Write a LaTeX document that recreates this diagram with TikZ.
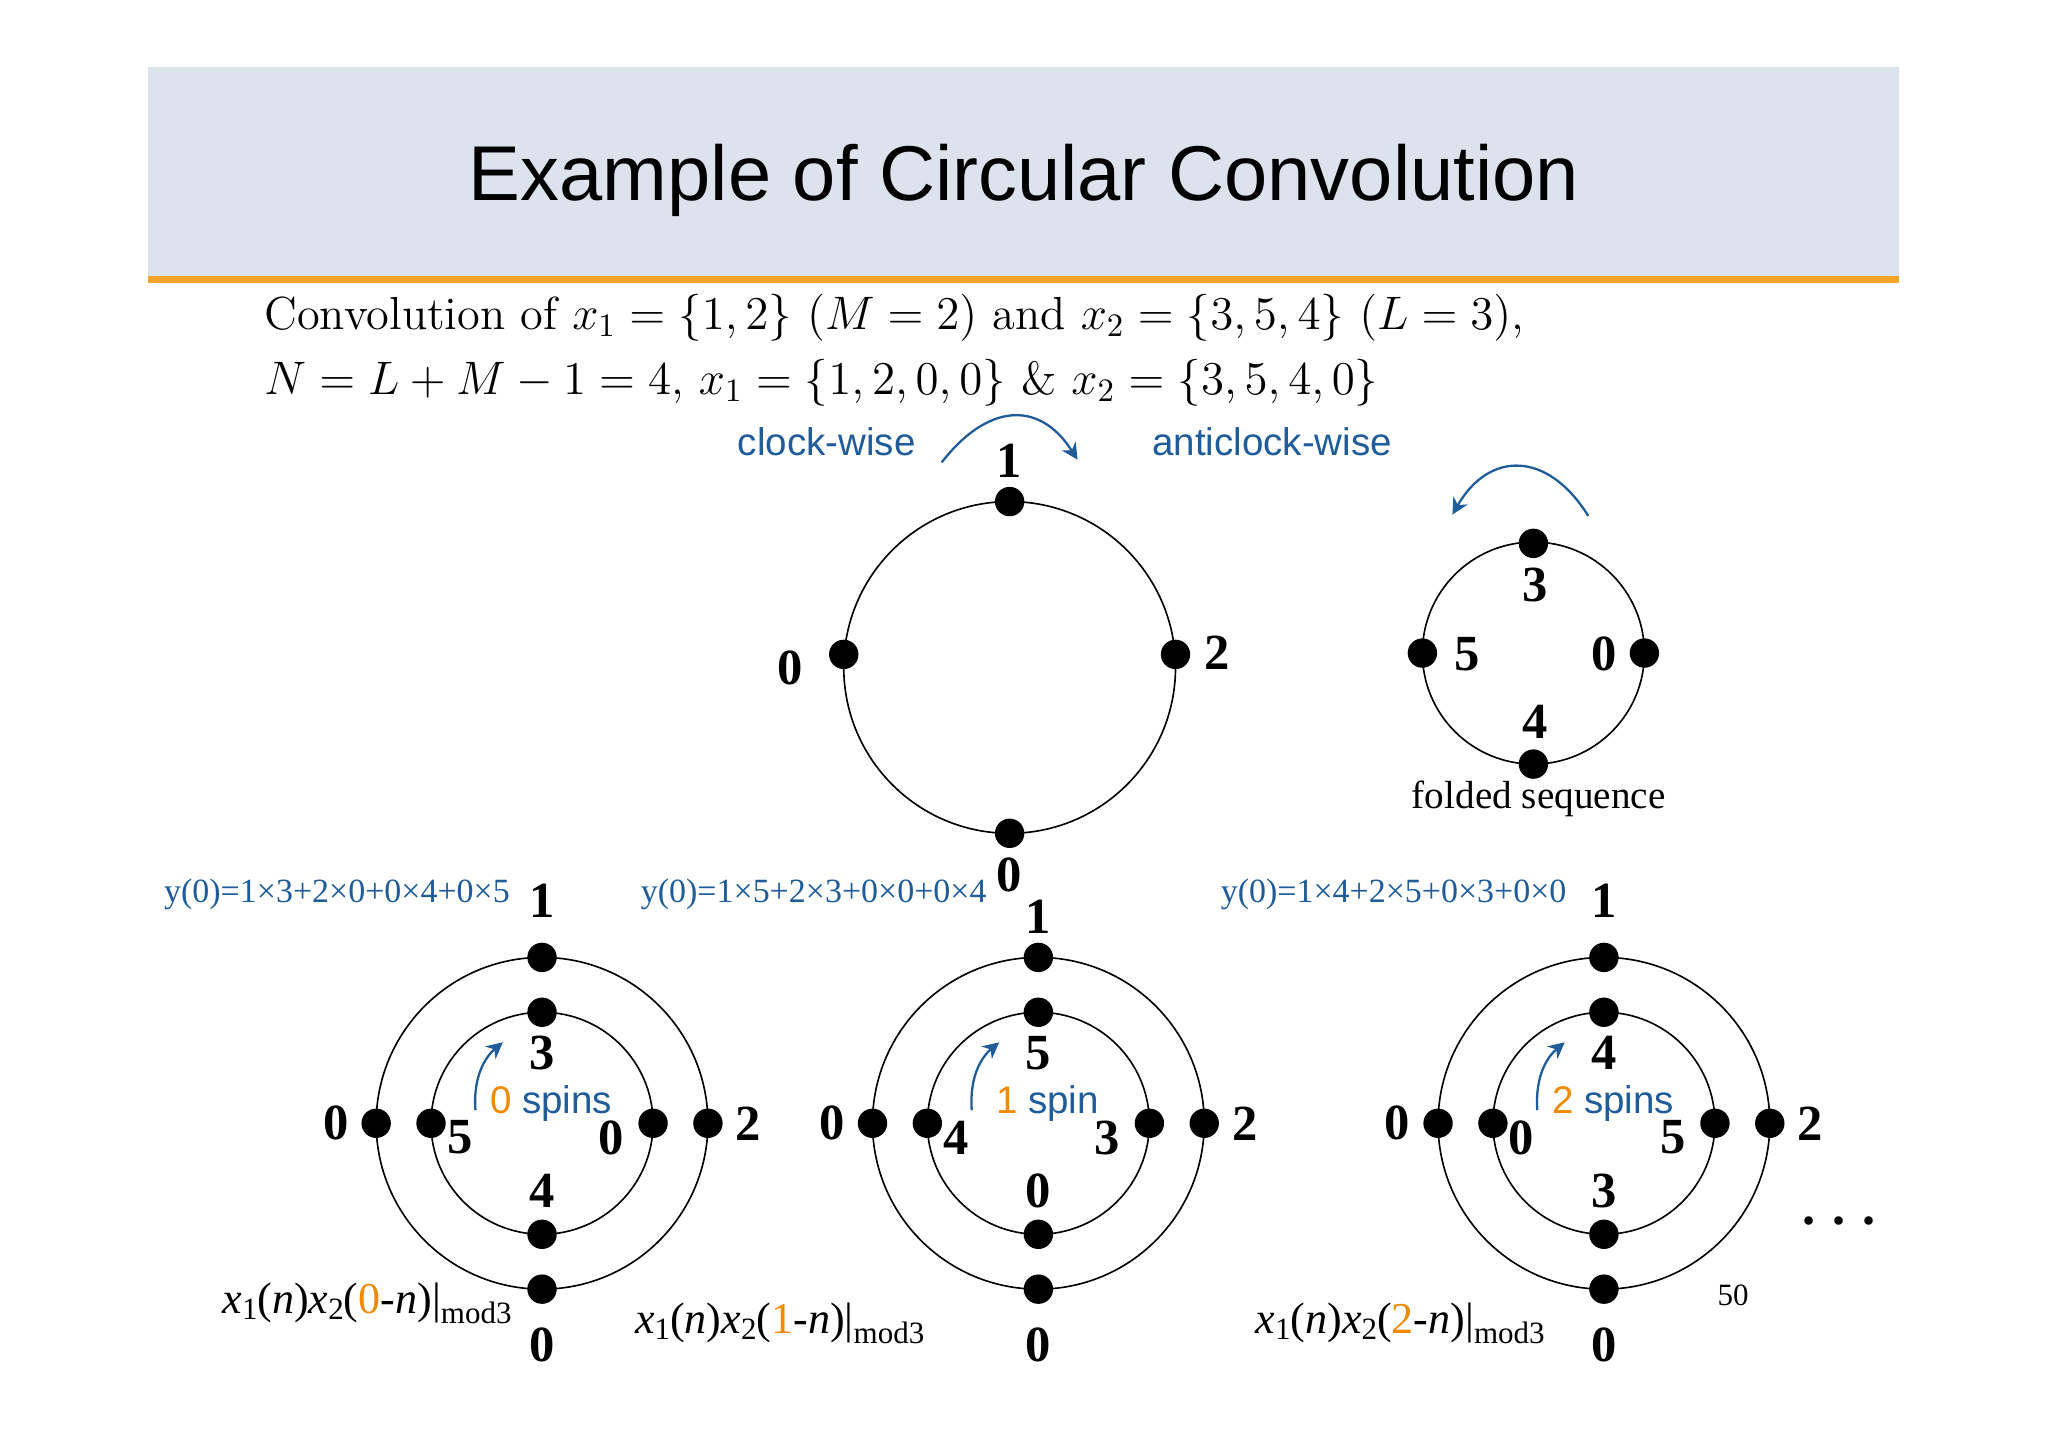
\documentclass[tikz,border=0pt]{standalone}
\usepackage{fontspec}
\newfontfamily\sansf{Liberation Sans}
\newfontfamily\tnr{Liberation Serif}
\usetikzlibrary{arrows.meta}
\definecolor{hdr}{HTML}{DCE3EC}
\definecolor{obar}{HTML}{F5A52A}
\definecolor{cblue}{HTML}{1F5C99}
\definecolor{corange}{HTML}{F08A00}
\tikzset{
 dot/.style={circle,fill=black,inner sep=0pt,minimum width=8pt,minimum height=9pt},
 num/.style={font=\tnr\bfseries\fontsize{15.5}{15.5}\selectfont,inner sep=0pt},
 ring/.style={draw=black,line width=0.5pt},
 barrow/.style={draw=cblue,line width=0.7pt,-{Stealth[length=5pt,width=5pt]}},
 blab/.style={text=cblue,font=\sansf\fontsize{11.8}{12}\selectfont,inner sep=0pt},
 ylab/.style={text=cblue,font=\tnr\fontsize{10.4}{11}\selectfont,inner sep=0pt},
 flab/.style={font=\tnr\fontsize{13.5}{14}\selectfont,inner sep=0pt},
}
\newcommand{\fml}[1]{\textit{x}\raisebox{-0.3ex}{\fontsize{9.5}{9.5}\selectfont 1}(\textit{n})\textit{x}\raisebox{-0.3ex}{\fontsize{9.5}{9.5}\selectfont 2}(\textcolor{corange}{#1}-\textit{n})|\raisebox{-0.5ex}{\fontsize{9.5}{9.5}\selectfont mod3}}
\begin{document}
\begin{tikzpicture}[x=0.4pt,y=-0.4pt]
\useasboundingbox[fill=white] (0,0) rectangle (1568,1107);
\fill[hdr] (113,51) rectangle (1454,212);
\fill[obar] (113,211) rectangle (1454,217);
\node[font=\sansf\fontsize{23.8}{24}\selectfont] (title) at (784,138) {Example of Circular Convolution};
\node[anchor=west,inner sep=0pt,font=\fontsize{14.2}{15}\selectfont] (l1) at (202,243) {Convolution of $x_1=\{1,2\}$ $(M=2)$ and $x_2=\{3,5,4\}$ $(L=3)$,};
\node[anchor=west,inner sep=0pt,font=\fontsize{14.2}{15}\selectfont] (l2) at (202,293) {$N=L+M-1=4$, $x_1=\{1,2,0,0\}$ \& $x_2=\{3,5,4,0\}$};
\node[blab] (cw) at (633,338) {clock-wise};
\node[blab] (acw) at (974,338) {anticlock-wise};
\coordinate (cwa) at (721,354); \coordinate (cwb) at (825,352);
\draw[barrow] (cwa) .. controls (755,310) and (795,305) .. (cwb);
% top circle
\draw[ring] (773,511) circle[radius=127];
\node[dot] (t1) at (773,384) {}; \node[dot] (t2) at (900,501) {};
\node[dot] (t0a) at (646,501) {}; \node[dot] (t0b) at (773,638) {};
\node[num] at (773,353) {1}; \node[num] at (605,511) {0};
\node[num] at (932,500) {2}; \node[num] at (773,670) {0};
% folded
\draw[ring] (1174,500) circle[radius=85];
\node[dot] (f3) at (1174,416) {}; \node[dot] (f5) at (1089,500) {};
\node[dot] (f0) at (1259,500) {}; \node[dot] (f4) at (1174,585) {};
\node[num] at (1175,448) {3}; \node[num] at (1123,501) {5};
\node[num] at (1228,501) {0}; \node[num] at (1175,553) {4};
\node[font=\tnr\fontsize{12}{12}\selectfont] (fs) at (1178,612) {folded sequence};
\coordinate (faa) at (1216,395); \coordinate (fab) at (1112,394);
\draw[barrow] (faa) .. controls (1185,345) and (1140,345) .. (fab);
% bottom circles
\foreach \cx/\lt/\ll/\lr/\lb/\sp/\spt/\yl/\ylx/\fx/\fy/\oy in
 {415/3/5/0/4/0/spins/{y(0)=1×3+2×0+0×4+0×5}/258/281/998/690,
  795/5/4/3/0/1/spin/{y(0)=1×5+2×3+0×0+0×4}/623/597/1013/702,
  1228/4/0/5/3/2/spins/{y(0)=1×4+2×5+0×3+0×0}/1067/1072/1013/690}{
 \draw[ring] (\cx,860) circle[radius=127];
 \draw[ring] (\cx,860) circle[radius=85];
 \node[dot] at (\cx,733) {}; \node[dot] at (\cx,987) {};
 \node[dot] at (\cx-127,860) {}; \node[dot] at (\cx+127,860) {};
 \node[dot] at (\cx,775) {}; \node[dot] at (\cx,945) {};
 \node[dot] at (\cx-85,860) {}; \node[dot] at (\cx+85,860) {};
 \node[num] at (\cx,\oy) {1}; \node[num] at (\cx-158,860) {0};
 \node[num] at (\cx+158,860) {2}; \node[num] at (\cx,1030) {0};
 \node[num] at (\cx,806) {\lt}; \node[num] at (\cx-63,871) {\ll};
 \node[num] at (\cx+53,871) {\lr}; \node[num] at (\cx,912) {\lb};
 \node[blab] at (\cx+7,845) {\textcolor{corange}{\sp} \spt};
 \draw[barrow] (\cx-51,850) .. controls (\cx-53,822) and (\cx-42,808) .. (\cx-30,798);
 \node[ylab] at (\ylx,685) {\yl};
 \node[flab] at (\fx,\fy) {\fml{\sp}};
}
\node[font=\tnr\fontsize{9.5}{10}\selectfont] (p50) at (1327,992) {50};
\node[font=\tnr\bfseries\fontsize{16}{16}\selectfont] (dots) at (1408,935) {. . .};
\end{tikzpicture}
\end{document}
